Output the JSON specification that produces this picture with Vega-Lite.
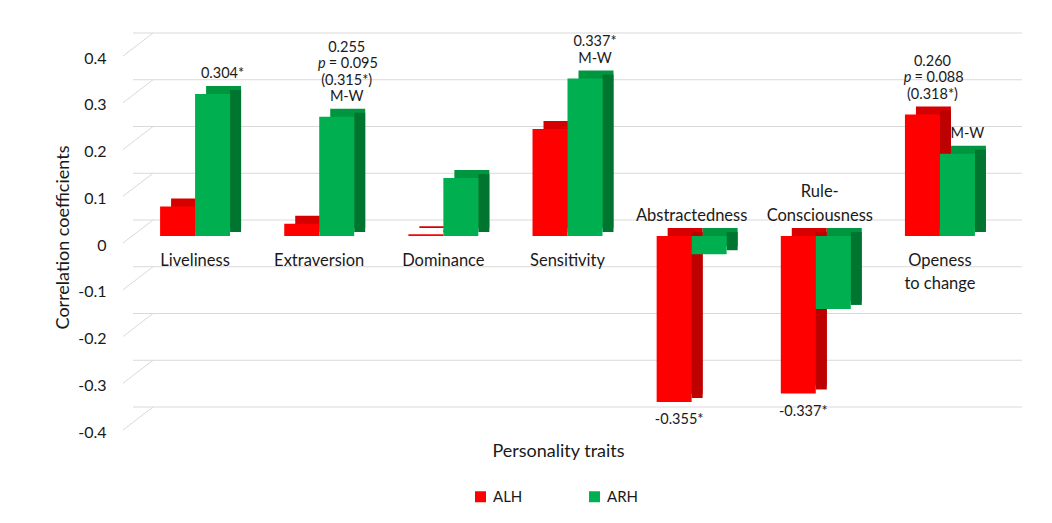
{
  "$schema": "https://vega.github.io/schema/vega-lite/v6.json",
  "width": 869,
  "height": 374,
  "autosize": {"type": "none"},
  "padding": {"left": 133, "top": 49, "right": 50, "bottom": 100},
  "background": "white",
  "config": {
    "view": {"stroke": null},
    "font": "Lato",
    "axis": {"grid": false, "domain": false, "ticks": false},
    "text": {"font": "Lato", "color": "#1a1a1a", "fontSize": 14.5, "align": "center", "baseline": "bottom"}
  },
  "datasets": {
    "bars": [
      {"cat": "Liveliness", "grp": "ALH", "value": 0.063},
      {"cat": "Liveliness", "grp": "ARH", "value": 0.304},
      {"cat": "Extraversion", "grp": "ALH", "value": 0.026},
      {"cat": "Extraversion", "grp": "ARH", "value": 0.255},
      {"cat": "Dominance", "grp": "ALH", "value": 0.004},
      {"cat": "Dominance", "grp": "ARH", "value": 0.124},
      {"cat": "Sensitivity", "grp": "ALH", "value": 0.229},
      {"cat": "Sensitivity", "grp": "ARH", "value": 0.337},
      {"cat": "Abstractedness", "grp": "ALH", "value": -0.355},
      {"cat": "Abstractedness", "grp": "ARH", "value": -0.039},
      {"cat": "Rule-Consciousness", "grp": "ALH", "value": -0.337},
      {"cat": "Rule-Consciousness", "grp": "ARH", "value": -0.156},
      {"cat": "Openess to change", "grp": "ALH", "value": 0.26},
      {"cat": "Openess to change", "grp": "ARH", "value": 0.176}
    ],
    "ticks": [
      {"v": -0.4}, {"v": -0.3}, {"v": -0.2}, {"v": -0.1}, {"v": 0},
      {"v": 0.1}, {"v": 0.2}, {"v": 0.3}, {"v": 0.4}
    ],
    "cats": [
      {"cat": "Liveliness", "pos": "below", "lines": ["Liveliness"]},
      {"cat": "Extraversion", "pos": "below", "lines": ["Extraversion"]},
      {"cat": "Dominance", "pos": "below", "lines": ["Dominance"]},
      {"cat": "Sensitivity", "pos": "below", "lines": ["Sensitivity"]},
      {"cat": "Abstractedness", "pos": "above1", "lines": ["Abstractedness"]},
      {"cat": "Rule-Consciousness", "pos": "above2", "lines": ["Rule-", "Consciousness"]},
      {"cat": "Openess to change", "pos": "below", "lines": ["Openess", "to change"]}
    ],
    "notes": [
      {"cat": "Liveliness", "grp": "ARH", "value": 0.304, "k": 0, "part": "main", "txt": "0.304*"},
      {"cat": "Extraversion", "grp": "ARH", "value": 0.255, "k": 0, "part": "main", "txt": "M-W"},
      {"cat": "Extraversion", "grp": "ARH", "value": 0.255, "k": 1, "part": "main", "txt": "(0.315*)"},
      {"cat": "Extraversion", "grp": "ARH", "value": 0.255, "k": 2, "part": "p", "txt": "p"},
      {"cat": "Extraversion", "grp": "ARH", "value": 0.255, "k": 2, "part": "rest", "txt": "= 0.095"},
      {"cat": "Extraversion", "grp": "ARH", "value": 0.255, "k": 3, "part": "main", "txt": "0.255"},
      {"cat": "Sensitivity", "grp": "ARH", "value": 0.337, "k": 0, "part": "main", "txt": "M-W"},
      {"cat": "Sensitivity", "grp": "ARH", "value": 0.337, "k": 1, "part": "main", "txt": "0.337*"},
      {"cat": "Openess to change", "grp": "ALH", "value": 0.26, "k": 0, "part": "main", "txt": "(0.318*)"},
      {"cat": "Openess to change", "grp": "ALH", "value": 0.26, "k": 1, "part": "p", "txt": "p"},
      {"cat": "Openess to change", "grp": "ALH", "value": 0.26, "k": 1, "part": "rest", "txt": "= 0.088"},
      {"cat": "Openess to change", "grp": "ALH", "value": 0.26, "k": 2, "part": "main", "txt": "0.260"},
      {"cat": "Openess to change", "grp": "ARH", "value": 0.176, "k": 0, "part": "main", "txt": "M-W"},
      {"cat": "Abstractedness", "grp": "ALH", "value": -0.355, "k": -1, "part": "main", "txt": "-0.355*"},
      {"cat": "Rule-Consciousness", "grp": "ALH", "value": -0.337, "k": -1, "part": "main", "txt": "-0.337*"}
    ]
  },
  "layer": [
    {
      "data": {"name": "ticks"},
      "mark": {"type": "rule", "color": "#d9d9d9", "strokeWidth": 1, "xOffset": -10, "x2Offset": 20, "yOffset": 7, "y2Offset": -16},
      "encoding": {
        "x": {"datum": 0, "type": "quantitative", "scale": {"domain": [0, 1]}, "axis": null},
        "x2": {"datum": 0},
        "y": {"field": "v", "type": "quantitative", "scale": {"domain": [-0.4, 0.4], "nice": false}},
        "y2": {"field": "v"}
      }
    },
    {
      "encoding": {
        "x": {"field": "cat", "type": "nominal", "scale": {"domain": ["Liveliness", "Extraversion", "Dominance", "Sensitivity", "Abstractedness", "Rule-Consciousness", "Openess to change"], "paddingInner": 0.4364, "paddingOuter": 0.2182}, "axis": {"labels": false, "title": "Personality traits", "titleFontSize": 18, "titleFontWeight": "normal", "titleFont": "Lato", "titleColor": "#1a1a1a", "titleX": 425, "titleY": 28, "titleBaseline": "middle"}}
      },
      "layer": [
        {
          "data": {"name": "ticks"},
          "mark": {"type": "rule", "color": "#d9d9d9", "strokeWidth": 1, "xOffset": 20, "x2Offset": 21, "yOffset": -16},
          "encoding": {
            "x": null,
            "y": {"field": "v", "type": "quantitative"}
          }
        },
        {
          "data": {"name": "bars"},
          "transform": [{"filter": "datum.grp === 'ALH' && datum.value >= 0"}],
          "mark": {"type": "bar", "color": "#d60000", "width": {"band": 0.5}, "xOffset": -6.5, "yOffset": -8, "y2Offset": -4},
          "encoding": {
            "y": {"field": "value", "type": "quantitative"}
          }
        },
        {
          "data": {"name": "bars"},
          "transform": [{"filter": "datum.grp === 'ALH' && datum.value < 0"}],
          "mark": {"type": "bar", "color": "#d60000", "width": {"band": 0.5}, "xOffset": -6.5, "yOffset": -8, "y2Offset": -8},
          "encoding": {
            "y": {"field": "value", "type": "quantitative"}
          }
        },
        {
          "data": {"name": "bars"},
          "transform": [{"filter": "datum.grp === 'ARH' && datum.value >= 0"}],
          "mark": {"type": "bar", "color": "#009640", "width": {"band": 0.5}, "xOffset": 28.5, "yOffset": -8, "y2Offset": -4},
          "encoding": {
            "y": {"field": "value", "type": "quantitative"}
          }
        },
        {
          "data": {"name": "bars"},
          "transform": [{"filter": "datum.grp === 'ARH' && datum.value < 0"}],
          "mark": {"type": "bar", "color": "#009640", "width": {"band": 0.5}, "xOffset": 28.5, "yOffset": -8, "y2Offset": -8},
          "encoding": {
            "y": {"field": "value", "type": "quantitative"}
          }
        },
        {
          "data": {"name": "bars"},
          "transform": [{"filter": "datum.grp === 'ALH'"}],
          "mark": {"type": "bar", "color": "#bd0000", "width": 11, "xOffset": 5.5, "yOffset": -4, "y2Offset": -4},
          "encoding": {
            "y": {"field": "value", "type": "quantitative"}
          }
        },
        {
          "data": {"name": "bars"},
          "transform": [{"filter": "datum.grp === 'ARH'"}],
          "mark": {"type": "bar", "color": "#007530", "width": 11, "xOffset": 40.5, "yOffset": -4, "y2Offset": -4},
          "encoding": {
            "y": {"field": "value", "type": "quantitative"}
          }
        },
        {
          "data": {"name": "bars"},
          "mark": {"type": "bar"},
          "encoding": {
            "xOffset": {"field": "grp", "type": "nominal", "scale": {"domain": ["ALH", "ARH"], "paddingInner": 0, "paddingOuter": 0}},
            "y": {"field": "value", "type": "quantitative", "axis": {"values": [-0.4, -0.3, -0.2, -0.1, 0, 0.1, 0.2, 0.3, 0.4], "labelExpr": "datum.value == 0 ? '0' : (datum.value < 0 ? '-' : '') + format(abs(datum.value), '.1f')", "labelFont": "Lato", "labelFontSize": 16, "labelColor": "#1a1a1a", "labelPadding": 27, "labelOffset": 9, "tickSize": 0, "title": "Correlation coefficients", "titleFont": "Lato", "titleFontSize": 18, "titleFontWeight": "normal", "titleColor": "#1a1a1a", "titleX": -70, "titleY": 188, "titleBaseline": "middle"}},
            "color": {"field": "grp", "type": "nominal", "scale": {"domain": ["ALH", "ARH"], "range": ["#ff0000", "#00b050"]}, "legend": {"orient": "none", "legendX": 340, "legendY": 440, "padding": 0, "direction": "horizontal", "title": null, "symbolType": "square", "symbolSize": 121, "symbolStrokeWidth": 0, "labelFont": "Lato", "labelFontSize": 15, "labelColor": "#1a1a1a", "labelOffset": 5, "columnPadding": 64}}
          }
        },
        {
          "data": {"name": "cats"},
          "transform": [{"filter": "datum.pos === 'below'"}],
          "mark": {"type": "text", "baseline": "top", "dy": 17, "fontSize": 16.5, "lineHeight": 23},
          "encoding": {
            "y": {"datum": 0, "type": "quantitative"},
            "text": {"field": "lines"}
          }
        },
        {
          "data": {"name": "cats"},
          "transform": [{"filter": "datum.pos === 'above1'"}],
          "mark": {"type": "text", "baseline": "bottom", "dy": -12, "fontSize": 16.5},
          "encoding": {
            "y": {"datum": 0, "type": "quantitative"},
            "text": {"field": "lines"}
          }
        },
        {
          "data": {"name": "cats"},
          "transform": [{"filter": "datum.pos === 'above2'"}],
          "mark": {"type": "text", "baseline": "bottom", "dx": 4, "dy": -36, "fontSize": 16.5, "lineHeight": 24},
          "encoding": {
            "y": {"datum": 0, "type": "quantitative"},
            "text": {"field": "lines"}
          }
        },
        {
          "data": {"name": "notes"},
          "transform": [{"filter": "datum.part === 'main' && datum.k === 0"}],
          "mark": {"type": "text", "dx": 10, "dy": -12.5},
          "encoding": {
            "xOffset": {"field": "grp", "type": "nominal"},
            "y": {"field": "value", "type": "quantitative"},
            "text": {"field": "txt"}
          }
        },
        {
          "data": {"name": "notes"},
          "transform": [{"filter": "datum.part === 'main' && datum.k === 1"}],
          "mark": {"type": "text", "dx": 10, "dy": -29},
          "encoding": {
            "xOffset": {"field": "grp", "type": "nominal"},
            "y": {"field": "value", "type": "quantitative"},
            "text": {"field": "txt"}
          }
        },
        {
          "data": {"name": "notes"},
          "transform": [{"filter": "datum.part === 'main' && datum.k === 2"}],
          "mark": {"type": "text", "dx": 10, "dy": -45.5},
          "encoding": {
            "xOffset": {"field": "grp", "type": "nominal"},
            "y": {"field": "value", "type": "quantitative"},
            "text": {"field": "txt"}
          }
        },
        {
          "data": {"name": "notes"},
          "transform": [{"filter": "datum.part === 'main' && datum.k === 3"}],
          "mark": {"type": "text", "dx": 10, "dy": -62},
          "encoding": {
            "xOffset": {"field": "grp", "type": "nominal"},
            "y": {"field": "value", "type": "quantitative"},
            "text": {"field": "txt"}
          }
        },
        {
          "data": {"name": "notes"},
          "transform": [{"filter": "datum.part === 'p' && datum.k === 1"}],
          "mark": {"type": "text", "align": "right", "dx": -11, "dy": -29, "fontStyle": "italic"},
          "encoding": {
            "xOffset": {"field": "grp", "type": "nominal"},
            "y": {"field": "value", "type": "quantitative"},
            "text": {"field": "txt"}
          }
        },
        {
          "data": {"name": "notes"},
          "transform": [{"filter": "datum.part === 'rest' && datum.k === 1"}],
          "mark": {"type": "text", "align": "left", "dx": -8, "dy": -29},
          "encoding": {
            "xOffset": {"field": "grp", "type": "nominal"},
            "y": {"field": "value", "type": "quantitative"},
            "text": {"field": "txt"}
          }
        },
        {
          "data": {"name": "notes"},
          "transform": [{"filter": "datum.part === 'p' && datum.k === 2"}],
          "mark": {"type": "text", "align": "right", "dx": -11, "dy": -45.5, "fontStyle": "italic"},
          "encoding": {
            "xOffset": {"field": "grp", "type": "nominal"},
            "y": {"field": "value", "type": "quantitative"},
            "text": {"field": "txt"}
          }
        },
        {
          "data": {"name": "notes"},
          "transform": [{"filter": "datum.part === 'rest' && datum.k === 2"}],
          "mark": {"type": "text", "align": "left", "dx": -8, "dy": -45.5},
          "encoding": {
            "xOffset": {"field": "grp", "type": "nominal"},
            "y": {"field": "value", "type": "quantitative"},
            "text": {"field": "txt"}
          }
        },
        {
          "data": {"name": "notes"},
          "transform": [{"filter": "datum.k === -1"}],
          "mark": {"type": "text", "baseline": "top", "dx": 5, "dy": 11},
          "encoding": {
            "xOffset": {"field": "grp", "type": "nominal"},
            "y": {"field": "value", "type": "quantitative"},
            "text": {"field": "txt"}
          }
        }
      ]
    }
  ],
  "resolve": {"scale": {"x": "independent"}}
}
